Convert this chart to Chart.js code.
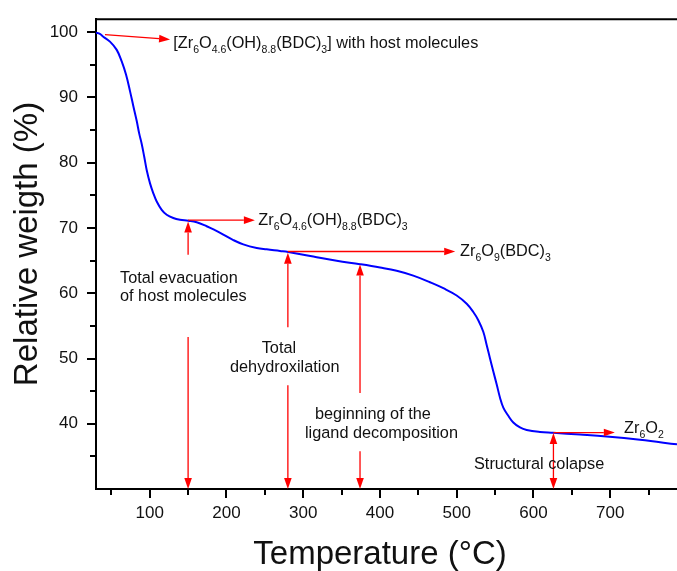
<!DOCTYPE html>
<html>
<head>
<meta charset="utf-8">
<script src="https://cdn.jsdelivr.net/npm/chart.js@4"></script>
<style>
  html, body { margin: 0; padding: 0; background: #fff; }
  #wrap { width: 677px; height: 571px; }
</style>
</head>
<body>
<div id="wrap"><canvas id="tga" width="677" height="571"></canvas></div>
<script>
// Thermogravimetric curve: temperature (°C) vs relative weight (%)
const temperatures = [30, 35, 39.5, 48.2, 57.0, 63.5, 69.1, 74.3, 78.6, 83.0, 86.4, 89.5, 92.9, 96.1, 100.4, 104.7, 109.1,
  115.6, 122.1, 130.7, 139.4, 150.3, 161.2, 174.2, 185.0, 195.9, 208.9, 221.9, 239.4, 252.4, 269.7, 280.5, 313.1, 343.6,
  374.0, 400.1, 421.8, 443.4, 465.2, 482.5, 499.9, 513.0, 521.6, 528.1, 534.6, 539.0, 543.3, 547.6, 552.1, 556.4, 560.7,
  567.2, 573.7, 582.4, 591.2, 608.5, 625.8, 660.6, 695.4, 738.8, 787];
const weights = [99.95, 99.75, 99.32, 98.56, 97.30, 95.53, 93.51, 90.98, 88.71, 86.43, 84.42, 82.90, 80.88, 78.85, 76.84, 75.32, 74.06,
  72.79, 72.03, 71.53, 71.27, 71.12, 70.88, 70.27, 69.67, 69.00, 68.15, 67.49, 66.94, 66.73, 66.49, 66.33, 65.62, 64.97,
  64.45, 63.95, 63.45, 62.70, 61.68, 60.77, 59.66, 58.39, 57.13, 55.87, 54.10, 52.08, 50.05, 48.04, 46.02, 43.99, 42.47,
  41.22, 40.20, 39.44, 39.05, 38.75, 38.62, 38.34, 38.03, 37.53, 36.85];

// Axis ticks
const xMajorTicks = [100, 200, 300, 400, 500, 600, 700];
const xMinorTicks = [50, 150, 250, 350, 450, 550, 650, 750];
const yMajorTicks = [40, 50, 60, 70, 80, 90, 100];
const yMinorTicks = [35, 45, 55, 65, 75, 85, 95];

// Arrows: [fromT, fromW, toT, toW] (head at the "to" end)
const arrows = [
  [41.7, 99.65, 126.5, 98.9],
  [150, 71.2, 237, 71.2],
  [150, 65.9, 150, 71.0],
  [150, 53.3, 150, 30],
  [280, 54.8, 280, 66.2],
  [280, 45.9, 280, 30],
  [280, 66.4, 498, 66.4],
  [374, 44.7, 374, 64.4],
  [374, 35.8, 374, 30],
  [626, 34.2, 626, 38.6],
  [626, 34.2, 626, 30],
  [626, 38.65, 706, 38.65]
];

// Labels: [T, W, segments] where each segment is [text, isSubscript]
const labels = [
  [130.7, 97.56, [['[Zr', 0], ['6', 1], ['O', 0], ['4.6', 1], ['(OH)', 0], ['8.8', 1], ['(BDC)', 0], ['3', 1], ['] with host molecules', 0]]],
  [241.5, 70.52, [['Zr', 0], ['6', 1], ['O', 0], ['4.6', 1], ['(OH)', 0], ['8.8', 1], ['(BDC)', 0], ['3', 1]]],
  [504.3, 65.73, [['Zr', 0], ['6', 1], ['O', 0], ['9', 1], ['(BDC)', 0], ['3', 1]]],
  [718, 38.53, [['Zr', 0], ['6', 1], ['O', 0], ['2', 1]]],
  [61.3, 61.57, [['Total evacuation', 0]]],
  [61.3, 58.75, [['of host molecules', 0]]],
  [245.9, 50.81, [['Total', 0]]],
  [204.6, 47.93, [['dehydroxilation', 0]]],
  [315.3, 40.72, [['beginning of the', 0]]],
  [302.3, 37.84, [['ligand decomposition', 0]]],
  [522.5, 33.14, [['Structural colapse', 0]]]
];

const xTitle = 'Temperature (°C)';
const yTitle = 'Relative weigth (%)';

const FONT = "'Liberation Sans', Arial, Helvetica, sans-serif";
const RED = '#ff0000';
const INK = '#111111';

const decorations = {
  id: 'decorations',
  afterDraw(chart) {
    const ctx = chart.ctx;
    const xs = chart.scales.x, ys = chart.scales.y;
    const area = chart.chartArea;
    ctx.save();

    // top frame line
    ctx.strokeStyle = '#000';
    ctx.lineWidth = 2;
    ctx.beginPath();
    ctx.moveTo(area.left - 1, area.top);
    ctx.lineTo(area.right, area.top);
    ctx.stroke();

    // minor ticks
    ctx.lineWidth = 2;
    ctx.beginPath();
    xMinorTicks.forEach(v => {
      const px = Math.round(xs.getPixelForValue(v));
      ctx.moveTo(px, area.bottom);
      ctx.lineTo(px, area.bottom + 6);
    });
    yMinorTicks.forEach(v => {
      const py = Math.round(ys.getPixelForValue(v));
      ctx.moveTo(area.left, py);
      ctx.lineTo(area.left - 6, py);
    });
    ctx.stroke();

    // arrows
    ctx.strokeStyle = RED;
    ctx.fillStyle = RED;
    ctx.lineWidth = 1.3;
    arrows.forEach(([t1, w1, t2, w2]) => {
      const x1 = xs.getPixelForValue(t1), y1 = ys.getPixelForValue(w1);
      const x2 = xs.getPixelForValue(t2), y2 = ys.getPixelForValue(w2);
      const ang = Math.atan2(y2 - y1, x2 - x1);
      const len = 11, hw = 3.8;
      const bx = x2 - len * Math.cos(ang), by = y2 - len * Math.sin(ang);
      ctx.beginPath();
      ctx.moveTo(x1, y1);
      ctx.lineTo(bx, by);
      ctx.stroke();
      ctx.beginPath();
      ctx.moveTo(x2, y2);
      ctx.lineTo(bx + hw * Math.sin(ang), by - hw * Math.cos(ang));
      ctx.lineTo(bx - hw * Math.sin(ang), by + hw * Math.cos(ang));
      ctx.closePath();
      ctx.fill();
    });

    // annotation text with subscripts
    ctx.fillStyle = INK;
    ctx.textBaseline = 'alphabetic';
    ctx.textAlign = 'left';
    labels.forEach(([t, w, segs]) => {
      let x = xs.getPixelForValue(t);
      const y = ys.getPixelForValue(w);
      segs.forEach(([txt, sub]) => {
        ctx.font = sub ? `10.5px ${FONT}` : `16.3px ${FONT}`;
        ctx.fillText(txt, x, sub ? y + 5 : y);
        x += ctx.measureText(txt).width;
      });
    });

    // axis titles
    ctx.font = `33px ${FONT}`;
    ctx.textAlign = 'center';
    ctx.textBaseline = 'alphabetic';
    ctx.fillText(xTitle, 380, 564);
    ctx.translate(37, 244);
    ctx.rotate(-Math.PI / 2);
    ctx.fillText(yTitle, 0, 0);
    ctx.restore();
  }
};

new Chart(document.getElementById('tga'), {
  type: 'scatter',
  data: {
    datasets: [{
      data: temperatures.map((t, i) => ({ x: t, y: weights[i] })),
      showLine: true,
      borderColor: '#0000ff',
      borderWidth: 2,
      pointRadius: 0,
      tension: 0.4,
      fill: false
    }]
  },
  options: {
    responsive: false,
    animation: false,
    events: [],
    layout: { padding: { top: 14, right: 0, left: 0, bottom: 0 } },
    plugins: { legend: { display: false }, tooltip: { enabled: false } },
    scales: {
      x: {
        type: 'linear',
        min: 30,
        max: 787,
        afterFit(s) { s.height = 82; },
        afterBuildTicks(s) { s.ticks = xMajorTicks.map(v => ({ value: v })); },
        grid: { display: true, drawOnChartArea: false, drawTicks: true, tickLength: 9, color: '#000', lineWidth: 2 },
        border: { display: true, color: '#000', width: 2 },
        ticks: { font: { family: FONT, size: 17 }, color: INK, padding: 5, maxRotation: 0, autoSkip: false }
      },
      y: {
        type: 'linear',
        min: 30,
        max: 102,
        afterFit(s) { s.width = 96; },
        afterBuildTicks(s) { s.ticks = yMajorTicks.map(v => ({ value: v })); },
        grid: { display: true, drawOnChartArea: false, drawTicks: true, tickLength: 9, color: '#000', lineWidth: 2 },
        border: { display: true, color: '#000', width: 2 },
        ticks: { font: { family: FONT, size: 17 }, color: INK, padding: 9 }
      }
    }
  },
  plugins: [decorations]
});
</script>
</body>
</html>
